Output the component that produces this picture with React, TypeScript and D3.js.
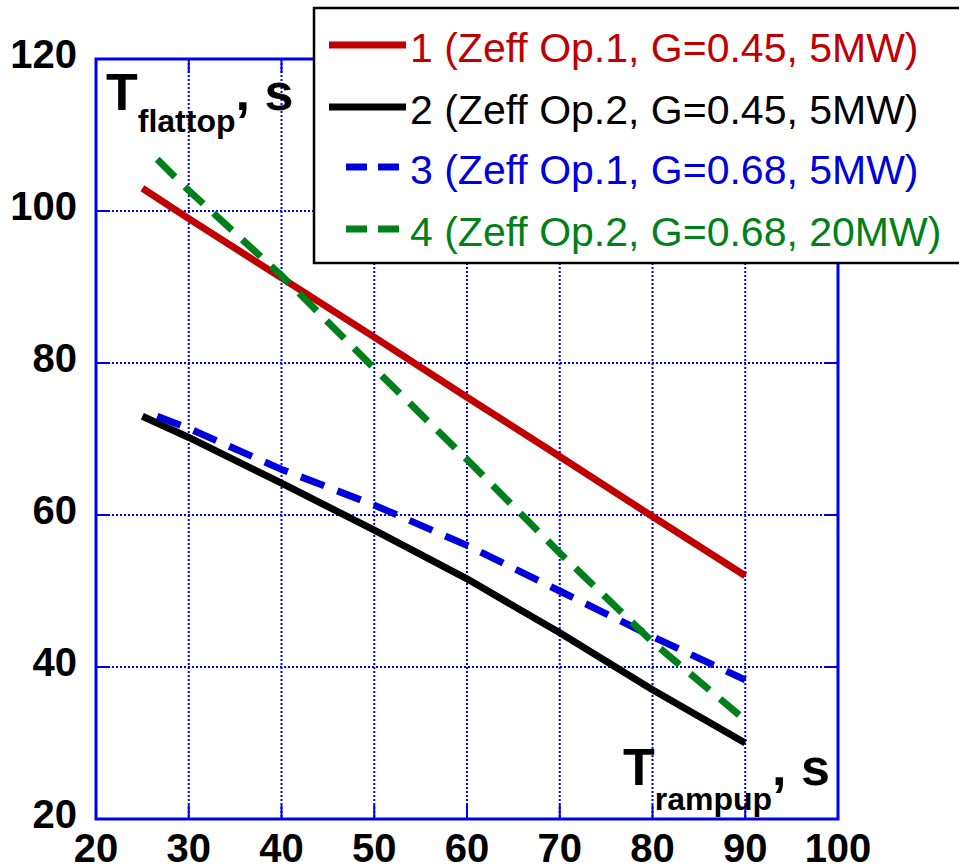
import React from "react";
import * as d3 from "d3";

const xTicks = [20, 30, 40, 50, 60, 70, 80, 90, 100];
const yTicks = [20, 40, 60, 80, 100, 120];

const rampup1 = [25, 30, 40, 50, 60, 70, 80, 90];
const flattop1 = [103, 99, 91.2, 83.4, 75.5, 67.7, 59.8, 52];
const rampup2 = [25, 30, 40, 50, 60, 70, 80, 90];
const flattop2 = [73, 70.2, 64.2, 58, 51.6, 44.5, 37, 30];
const rampup3 = [26.6, 30, 40, 50, 60, 70, 80, 90];
const flattop3 = [73, 71.4, 66, 61.3, 56, 50, 44, 38.3];
const rampup4 = [26.6, 30, 40, 50, 60, 70, 80, 90];
const flattop4 = [106.8, 102.7, 91.5, 79.3, 67.3, 55, 43.3, 33];

const legendLabels = [
  "1 (Zeff Op.1, G=0.45, 5MW)",
  "2 (Zeff Op.2, G=0.45, 5MW)",
  "3 (Zeff Op.1, G=0.68, 5MW)",
  "4 (Zeff Op.2, G=0.68, 20MW)",
];
const colors = ["#c00000", "#000000", "#0000dd", "#00801a"];
const dashed = [false, false, true, true];

export default function App() {
  const W = 959, H = 867;
  const L = 96, R = 838, T = 59, B = 819;
  const x = d3.scaleLinear().domain([20, 100]).range([L, R]);
  const y = d3.scaleLinear().domain([20, 120]).range([B, T]);
  const line = d3.line<[number, number]>().x(d => x(d[0])).y(d => y(d[1]));
  const series = [
    rampup1.map((v, i) => [v, flattop1[i]] as [number, number]),
    rampup2.map((v, i) => [v, flattop2[i]] as [number, number]),
    rampup3.map((v, i) => [v, flattop3[i]] as [number, number]),
    rampup4.map((v, i) => [v, flattop4[i]] as [number, number]),
  ];
  const grid = "#0000ee";
  const font = "Liberation Sans, Arial, sans-serif";
  const legendY = [45, 107, 167, 229];
  return (
    <svg width={W} height={H} style={{ position: "absolute", left: 0, top: 0, background: "#fff" }}>
      <rect x={0} y={0} width={W} height={H} fill="#fff" />
      {/* grid */}
      {xTicks.slice(1, -1).map(t => (
        <line key={"gx" + t} x1={x(t)} x2={x(t)} y1={T} y2={B} stroke={grid} strokeWidth={2} strokeDasharray="2,2" />
      ))}
      {yTicks.slice(1, -1).map(t => (
        <line key={"gy" + t} x1={L} x2={R} y1={y(t)} y2={y(t)} stroke={grid} strokeWidth={2} strokeDasharray="2,2" />
      ))}
      {/* ticks */}
      {xTicks.slice(1, -1).map(t => (
        <g key={"tx" + t}>
          <line x1={x(t)} x2={x(t)} y1={B} y2={B - 14} stroke={grid} strokeWidth={2} />
          <line x1={x(t)} x2={x(t)} y1={T} y2={T + 14} stroke={grid} strokeWidth={2} />
        </g>
      ))}
      {yTicks.slice(1, -1).map(t => (
        <g key={"ty" + t}>
          <line x1={L} x2={L + 14} y1={y(t)} y2={y(t)} stroke={grid} strokeWidth={2} />
          <line x1={R} x2={R - 14} y1={y(t)} y2={y(t)} stroke={grid} strokeWidth={2} />
        </g>
      ))}
      <rect x={L} y={T} width={R - L} height={B - T} fill="none" stroke={grid} strokeWidth={3} />
      {/* tick labels */}
      {yTicks.map(t => (
        <text key={"ly" + t} x={77} y={y(t) + 9} textAnchor="end" fontFamily={font} fontWeight="bold" fontSize={40} fill="#000">{t}</text>
      ))}
      {xTicks.map(t => (
        <text key={"lx" + t} x={x(t)} y={862} textAnchor="middle" fontFamily={font} fontWeight="bold" fontSize={40} fill="#000">{t}</text>
      ))}
      {/* series */}
      {series.map((s, i) => (
        <path key={"s" + i} d={line(s) || ""} fill="none" stroke={colors[i]} strokeWidth={7}
          strokeDasharray={dashed[i] ? "25,14" : undefined} strokeLinecap="butt" strokeLinejoin="round" />
      ))}
      {/* axis titles */}
      <text x={106} y={110} fontFamily={font} fontWeight="bold" fontSize={52} fill="#000">
        T<tspan fontSize={32} dy={22}>flattop</tspan><tspan dy={-22}>, s</tspan>
      </text>
      <text x={623} y={785} fontFamily={font} fontWeight="bold" fontSize={52} fill="#000">
        T<tspan fontSize={32} dy={25}>rampup</tspan><tspan dy={-25}>, s</tspan>
      </text>
      {/* legend */}
      <rect x={314} y={8} width={660} height={255} fill="#fff" stroke="#000" strokeWidth={2.5} />
      {legendLabels.map((lab, i) => (
        <g key={"lg" + i}>
          {dashed[i] ? (
            <line x1={346} x2={402} y1={legendY[i]} y2={legendY[i]} stroke={colors[i]} strokeWidth={7} strokeDasharray="21,11" />
          ) : (
            <line x1={329} x2={406} y1={legendY[i]} y2={legendY[i]} stroke={colors[i]} strokeWidth={7} />
          )}
          <text x={410} y={legendY[i] + 17} fontFamily={font} fontSize={41} fill={colors[i]}>{lab}</text>
        </g>
      ))}
    </svg>
  );
}
